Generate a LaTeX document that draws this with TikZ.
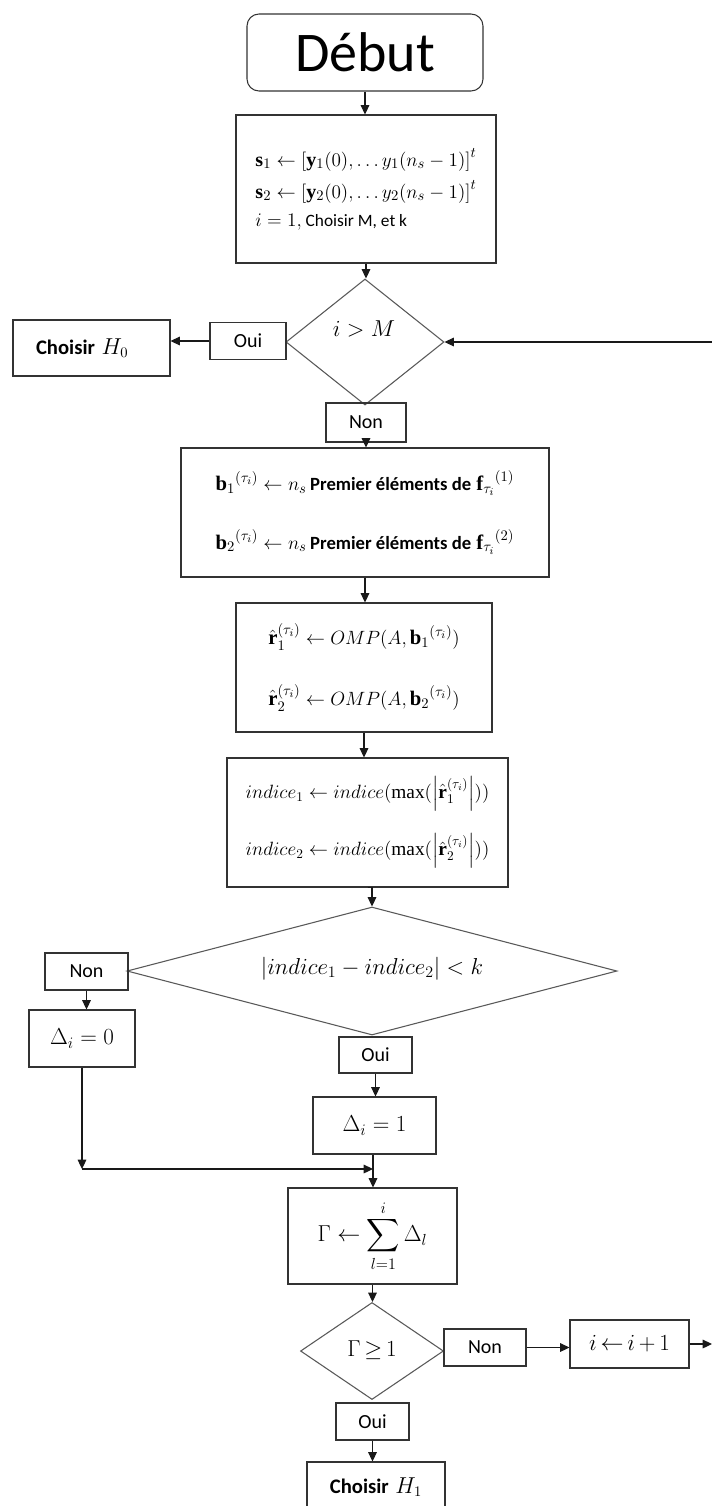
\documentclass[tikz,border=0pt]{standalone}
\usepackage{exscale}
\usepackage{fontspec}
\setmainfont{Liberation Serif}
\newfontfamily\calib{Carlito}
\usetikzlibrary{arrows.meta,shapes.geometric}
\tikzset{
  box/.style={draw=black!80, line width=0.8pt, inner sep=0pt},
  dia/.style={draw=black!65, line width=0.8pt, diamond, inner sep=0pt},
  lab/.style={box, font=\calib\fontsize{15}{18}\selectfont},
  arr/.style={draw=black!90, line width=0.8pt, -{Triangle[length=7pt,width=6.5pt]}}
}
\begin{document}
\begin{tikzpicture}[x=0.75pt,y=-0.75pt]
\useasboundingbox (0,0) rectangle (712,1506);
\clip (0,0) rectangle (712,1506);
\fill[white] (0,0) rectangle (712,1506);

% Start
\node[box, rounded corners=9pt, minimum width=177pt, minimum height=57.75pt,
      font=\calib\fontsize{42}{46}\selectfont] (deb) at (365,52.5) {Début};

% Initialisation
\node[box, minimum width=195pt, minimum height=111pt, align=left,
      font=\fontsize{15}{18}\selectfont] (b1) at (366,189)
 {$\mathbf{s}_1 \leftarrow \left[\mathbf{y}_1(0),\ldots y_1(n_s-1)\right]^t$\\[6pt]
  $\mathbf{s}_2 \leftarrow \left[\mathbf{y}_2(0),\ldots y_2(n_s-1)\right]^t$\\[3pt]
  $i=1,${\calib\fontsize{13}{15}\selectfont\ Choisir M, et k}};

% Decision i > M
\node[dia, minimum width=118.5pt, minimum height=94.5pt] (d1) at (365,342) {};
\node[font=\fontsize{16}{19}\selectfont, inner sep=0pt] (d1t) at (364,329) {$i > M$};
\node[lab, minimum width=57pt, minimum height=27.75pt] (oui1) at (248,341) {Oui};
\node[box, minimum width=117.75pt, minimum height=42pt] (h0) at (91.5,348)
 {{\calib\bfseries\fontsize{15.5}{18}\selectfont Choisir}\ \ {\fontsize{16}{19}\selectfont$H_0$}\hspace*{14pt}};
\node[lab, minimum width=60pt, minimum height=29.25pt] (non1) at (366,422.5) {Non};
\coordinate (edgeT) at (712,342);

% b boxes
\node[box, minimum width=276pt, minimum height=96.75pt, align=left,
      font=\fontsize{15.5}{18}\selectfont] (b2) at (365,512.5)
 {${\mathbf{b}_1}^{(\tau_i)} \leftarrow n_s$\,{\calib\bfseries\fontsize{14}{17}\selectfont Premier éléments de}\ ${\mathbf{f}_{\tau_i}}^{(1)}$\\[24pt]
  ${\mathbf{b}_2}^{(\tau_i)} \leftarrow n_s$\,{\calib\bfseries\fontsize{14}{17}\selectfont Premier éléments de}\ ${\mathbf{f}_{\tau_i}}^{(2)}$};

% OMP
\node[box, minimum width=192pt, minimum height=96.75pt, align=left,
      font=\fontsize{15.5}{18}\selectfont] (b3) at (364,667.5)
 {$\hat{\mathbf{r}}_1^{(\tau_i)} \leftarrow OMP(A,{\mathbf{b}_1}^{(\tau_i)})$\\[24pt]
  $\hat{\mathbf{r}}_2^{(\tau_i)} \leftarrow OMP(A,{\mathbf{b}_2}^{(\tau_i)})$};

% indices
\node[box, minimum width=210.75pt, minimum height=96.75pt, align=left,
      font=\fontsize{14.5}{17}\selectfont] (b4) at (367.5,822.5)
 {$indice_1 \leftarrow indice(\max(\left|\hat{\mathbf{r}}_1^{(\tau_i)}\right|))$\\[16pt]
  $indice_2 \leftarrow indice(\max(\left|\hat{\mathbf{r}}_2^{(\tau_i)}\right|))$};

% Decision |indice1 - indice2| < k
\node[dia, shape aspect=3.83, minimum width=367.5pt, minimum height=96pt,
      font=\fontsize{17}{20}\selectfont] (d2) at (372,971)
 {\raisebox{8pt}{$\left|indice_1 - indice_2\right| < k$}};
\node[lab, minimum width=62.25pt, minimum height=27.75pt] (non2) at (86.5,971.5) {Non};
\node[box, minimum width=79.5pt, minimum height=42.75pt, font=\fontsize{17}{20}\selectfont] (dz) at (82,1038.5) {$\Delta_i = 0$};
\node[lab, minimum width=54.75pt, minimum height=27pt] (oui2) at (375.5,1055) {Oui};
\node[box, minimum width=92.25pt, minimum height=42.75pt, font=\fontsize{17}{20}\selectfont] (dd) at (374.5,1125.5) {$\Delta_i = 1$};
\coordinate (corner) at (82,1169);
\coordinate (junc) at (373,1169);

% Gamma
\node[box, minimum width=126.75pt, minimum height=72pt, font=\fontsize{18}{21}\selectfont] (b5) at (372.5,1236)
 {$\displaystyle \Gamma \leftarrow \sum_{l=1}^{i} \Delta_l$};

% Decision Gamma >= 1
\node[dia, shape aspect=1.47, minimum width=107.25pt, minimum height=72.75pt,
      font=\fontsize{16}{19}\selectfont] (d3) at (372,1351) {\raisebox{3pt}{$\Gamma\,{\geq}\,1$}};
\node[lab, minimum width=61.5pt, minimum height=27.75pt] (non3) at (485,1347.5) {Non};
\node[box, minimum width=89.25pt, minimum height=36pt, font=\fontsize{17}{20}\selectfont] (ib) at (629.5,1344) {$i\,{\leftarrow}\,i\,{+}\,1$};
\coordinate (edgeB) at (712,1344);
\node[lab, minimum width=54.75pt, minimum height=27.75pt] (oui3) at (372.5,1421.5) {Oui};
\node[box, minimum width=103.5pt, minimum height=37.5pt] (h1) at (376,1487)
 {{\calib\bfseries\fontsize{15.5}{18}\selectfont Choisir}\ \ {\fontsize{16}{19}\selectfont$H_1$}};

% Connectors
\draw[arr] (deb.south) -- (deb.south |- b1.north);
\draw[arr] (b1.south) -- (b1.south |- d1.north);
\draw[arr] (oui1.west) -- (oui1.west -| h0.east);
\draw[arr] (edgeT) -- (d1.east);
\draw[arr] (non1.south) -- (non1.south |- b2.north);
\draw[arr] (b2.south) -- (b2.south |- b3.north);
\draw[arr] (b3.south) -- (b3.south |- b4.north);
\draw[arr] (b4.south) -- (b4.south -| d2.north) -- (d2.north);
\draw[arr] (non2.south) -- (non2.south |- dz.north);
\draw[arr] (oui2.south) -- (oui2.south |- dd.north);
\draw[arr] (dz.south) -- (corner);
\draw[arr] (corner) -- (junc);
\draw[arr] (dd.south -| junc) -- (junc |- b5.north);
\draw[arr] (b5.south) -- (b5.south |- d3.north);
\draw[arr] (non3.east) -- (non3.east -| ib.west);
\draw[arr] (ib.east) -- (edgeB);
\draw[arr] (oui3.south) -- (oui3.south |- h1.north);
\end{tikzpicture}
\end{document}
